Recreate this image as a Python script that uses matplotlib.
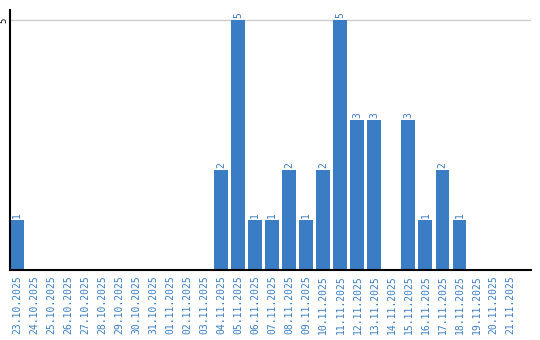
import matplotlib
matplotlib.use("Agg")
import matplotlib.pyplot as plt

dates = ["23.10.2025", "24.10.2025", "25.10.2025", "26.10.2025", "27.10.2025",
         "28.10.2025", "29.10.2025", "30.10.2025", "31.10.2025", "01.11.2025",
         "02.11.2025", "03.11.2025", "04.11.2025", "05.11.2025", "06.11.2025",
         "07.11.2025", "08.11.2025", "09.11.2025", "10.11.2025", "11.11.2025",
         "12.11.2025", "13.11.2025", "14.11.2025", "15.11.2025", "16.11.2025",
         "17.11.2025", "18.11.2025", "19.11.2025", "20.11.2025", "21.11.2025"]
values = [1, 0, 0, 0, 0, 0, 0, 0, 0, 0,
          0, 0, 2, 5, 1, 1, 2, 1, 2, 5,
          3, 3, 0, 3, 1, 2, 1, 0, 0, 0]
yticks = [5]

blue = "#3a7dc4"
W, H = 540, 340
fig = plt.figure(figsize=(W/100, H/100), dpi=100)
ax = fig.add_axes([10/W, (H-270)/H, (531-10)/W, (270-10)/H])

x = list(range(len(dates)))
ax.bar(x, values, width=0.82, color=blue, zorder=2)
for xi, v in zip(x, values):
    if v > 0:
        ax.text(xi, v + 0.05, str(v), rotation=90, ha="center", va="bottom",
                color=blue, fontsize=7, family="DejaVu Sans Mono")

ax.set_xlim(-0.41, 30.2)
ax.set_ylim(0, 5.2)
ax.set_yticks(yticks)
ax.set_yticklabels([str(t) for t in yticks], rotation=90, va="center",
                   fontsize=6.5, family="DejaVu Sans Mono", color="black")
ax.set_xticks(x)
ax.set_xticklabels(dates, rotation=90, fontsize=7, family="DejaVu Sans Mono",
                   color=blue)
ax.tick_params(axis="x", length=0, pad=4)
ax.tick_params(axis="y", length=0, pad=1)
ax.grid(axis="y", color="#cccccc", linewidth=1, zorder=0)
for s in ["top", "right"]:
    ax.spines[s].set_visible(False)
for s in ["left", "bottom"]:
    ax.spines[s].set_color("black")
    ax.spines[s].set_linewidth(1.5)

fig.savefig("out.png", dpi=100)
